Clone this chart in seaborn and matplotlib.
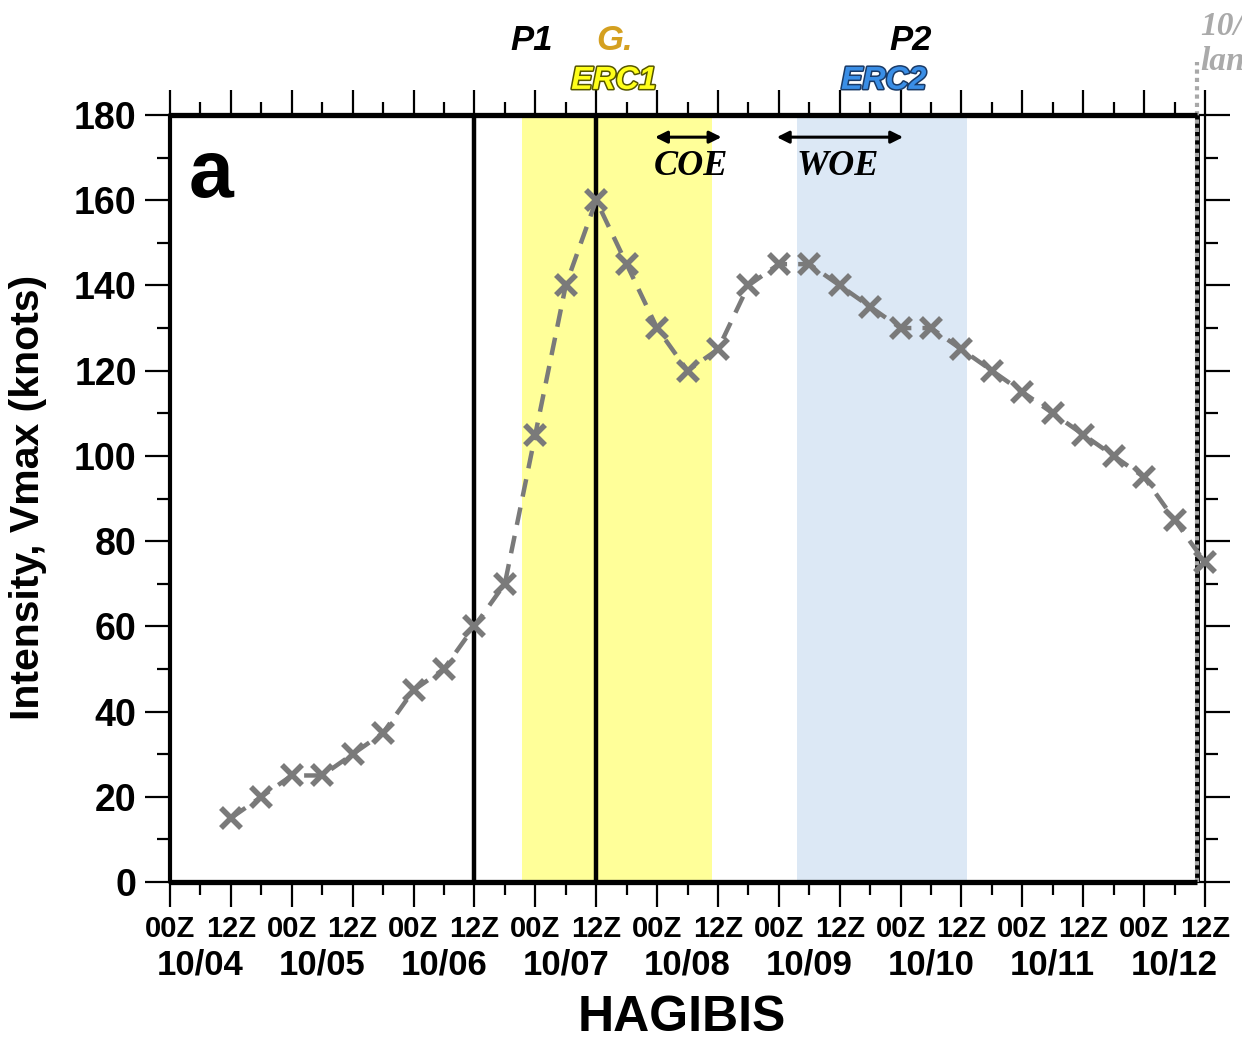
import numpy as np
import pandas as pd
import matplotlib
matplotlib.use("Agg")
import matplotlib.pyplot as plt
import matplotlib.patheffects as pe
from matplotlib import font_manager
from matplotlib.ticker import MultipleLocator, FixedLocator
import seaborn as sns

# ---------------- data ----------------
hours = [12, 18, 24, 30, 36, 42, 48, 54, 60, 66, 72, 78, 84, 90, 96, 102, 108,
         114, 120, 126, 132, 138, 144, 150, 156, 162, 168, 174, 180, 186, 192,
         198, 204]  # hours since 10/04 00Z
vmax = [15, 20, 25, 25, 30, 35, 45, 50, 60, 70, 105, 140, 160, 145, 130, 120,
        125, 140, 145, 145, 140, 135, 130, 130, 125, 120, 115, 110, 105, 100,
        95, 85, 75]
date_labels = ["10/04", "10/05", "10/06", "10/07", "10/08", "10/09", "10/10",
               "10/11", "10/12"]
date_hours = [6, 30, 54, 78, 102, 126, 150, 174, 198]
hour_labels = ["00Z", "12Z"]
erc1_span = [69.3, 106.8]
erc2_span = [123.6, 157.0]
p1_hour = 60
g_hour = 84
landfall_hour = 202.4
coe_span = [95.6, 108.7]
woe_span = [119.6, 144.5]

df = pd.DataFrame({"hour": hours, "vmax": vmax})

# ---------------- style ----------------
sns.set_style("ticks")
plt.rcParams["font.family"] = ["Liberation Sans", "DejaVu Sans"]
plt.rcParams["font.weight"] = "bold"
plt.rcParams["text.color"] = "black"
plt.rcParams["axes.labelcolor"] = "black"
plt.rcParams["xtick.color"] = "black"
plt.rcParams["ytick.color"] = "black"
plt.rcParams["xtick.labelcolor"] = "black"
plt.rcParams["ytick.labelcolor"] = "black"

# condensed font for hour tick labels if available
try:
    font_manager.findfont(font_manager.FontProperties(family="Liberation Sans Narrow",
                                                      weight="bold"),
                          fallback_to_default=False)
    narrow_family, hour_size = "Liberation Sans Narrow", 25
except Exception:
    narrow_family, hour_size = "Liberation Sans", 21

fig = plt.figure(figsize=(12.42, 10.39), dpi=100)
ax = fig.add_axes([170 / 1242, 1 - 882 / 1039, (1205 - 170) / 1242, (882 - 115) / 1039])

ax.axvspan(erc1_span[0], erc1_span[1], color="#FFFF99", zorder=0, lw=0)
ax.axvspan(erc2_span[0], erc2_span[1], color="#DCE8F5", zorder=0, lw=0)

ax.axvline(p1_hour, color="black", lw=3.2, zorder=2)
ax.axvline(g_hour, color="black", lw=3.2, zorder=2)
# landfall line: black with gray dots, gray dots extend above
ax.plot([landfall_hour, landfall_hour], [0, 180], color="black", lw=3.5, zorder=2,
        clip_on=False, solid_capstyle="butt")
ax.plot([landfall_hour, landfall_hour], [0, 192.5], color="#A8A8A8", lw=3.0,
        zorder=3, clip_on=False, linestyle=(0, (1, 1)))

sns.lineplot(data=df, x="hour", y="vmax", ax=ax, color="#7A7A7A",
             linestyle=(0, (4, 2.5)), lw=3.2, marker="x", markersize=15,
             markeredgewidth=4, markeredgecolor="#7A7A7A", zorder=5, clip_on=False)

ax.set_xlim(0, 204)
ax.set_ylim(0, 180)
ax.set_xlabel("")
ax.set_ylabel("")

major_x = list(range(0, 205, 12))
ax.xaxis.set_major_locator(FixedLocator(major_x))
ax.set_xticklabels([hour_labels[i % 2] for i in range(len(major_x))])
ax.xaxis.set_minor_locator(MultipleLocator(6))
ax.yaxis.set_major_locator(MultipleLocator(20))
ax.yaxis.set_minor_locator(MultipleLocator(10))

ax.tick_params(which="both", direction="out", top=True, right=True, width=1.6,
               color="black", labelcolor="black")
ax.tick_params(which="major", length=18)
ax.tick_params(which="minor", length=9.5)
ax.tick_params(axis="x", which="major", labelsize=hour_size, pad=6)
ax.tick_params(axis="y", which="major", labelsize=27, pad=6)
for lab in ax.get_xticklabels():
    lab.set_family([narrow_family, "Liberation Sans"])
for lab in ax.get_xticklabels() + ax.get_yticklabels():
    lab.set_fontweight("bold")
    lab.set_color("black")

for s in ax.spines.values():
    s.set_linewidth(1.6)
    s.set_color("black")
# thick frame up to landfall line
ax.plot([0, landfall_hour], [180, 180], color="black", lw=3.8, clip_on=False, zorder=6,
        solid_capstyle="butt")
ax.plot([0, landfall_hour], [0, 0], color="black", lw=3.8, clip_on=False, zorder=6,
        solid_capstyle="butt")
ax.plot([0, 0], [0, 180], color="black", lw=3.0, clip_on=False, zorder=6)

# date labels
for h, lab in zip(date_hours, date_labels):
    ax.annotate(lab, xy=(h, 0), xycoords=("data", "axes fraction"),
                xytext=(0, -60), textcoords="offset points", ha="center",
                va="center", fontsize=25, fontweight="bold", color="black")

# top annotations
ax.text(71.3, 197.6, "P1", ha="center", va="center", fontsize=25,
        fontweight="bold", style="italic", color="black", clip_on=False)
ax.text(87.7, 197.6, "G.", ha="center", va="center", fontsize=25,
        fontweight="bold", style="italic", color="#D4A020", clip_on=False)
ax.text(146.0, 197.6, "P2", ha="center", va="center", fontsize=25,
        fontweight="bold", style="italic", color="black", clip_on=False)
ax.text(87.5, 188.0, "ERC1", ha="center", va="center", fontsize=23,
        fontweight="bold", style="italic", color="#FFFF1A", clip_on=False,
        path_effects=[pe.withStroke(linewidth=2.2, foreground="#555500")])
ax.text(140.7, 188.0, "ERC2", ha="center", va="center", fontsize=23,
        fontweight="bold", style="italic", color="#3A8EE6", clip_on=False,
        path_effects=[pe.withStroke(linewidth=2.2, foreground="#1A3A66")])
ax.text(203.0, 189.0, "10/12\nlandfall", ha="left",
        va="bottom", fontsize=24, fontweight="bold", style="italic",
        color="#AAAAAA", family=["Liberation Serif"], linespacing=1.15,
        clip_on=False)

# COE / WOE arrows
for (a, b) in [coe_span, woe_span]:
    ax.annotate("", xy=(a, 174.8), xytext=(b, 174.8),
                arrowprops=dict(arrowstyle="<|-|>", color="black", lw=2.2,
                                mutation_scale=18, shrinkA=0, shrinkB=0))
ax.text(102.6, 168.0, "COE", ha="center", va="center", fontsize=26,
        fontweight="bold", style="italic", color="black",
        family=["Liberation Serif"])
ax.text(131.7, 168.0, "WOE", ha="center", va="center", fontsize=26,
        fontweight="bold", style="italic", color="black",
        family=["Liberation Serif"])

ax.text(0.04, 0.92, "a", transform=ax.transAxes, ha="center", va="center",
        fontsize=58, fontweight="bold", color="black")

fig.text(28 / 1242, 1 - 497 / 1039, "Intensity, Vmax (knots)", rotation=90,
         ha="center", va="center", fontsize=29.5, fontweight="bold", color="black")
fig.text(682 / 1242, 1 - 1018 / 1039, "HAGIBIS", ha="center", va="center",
         fontsize=36, fontweight="bold", color="black")

fig.savefig("out.png", dpi=100)
